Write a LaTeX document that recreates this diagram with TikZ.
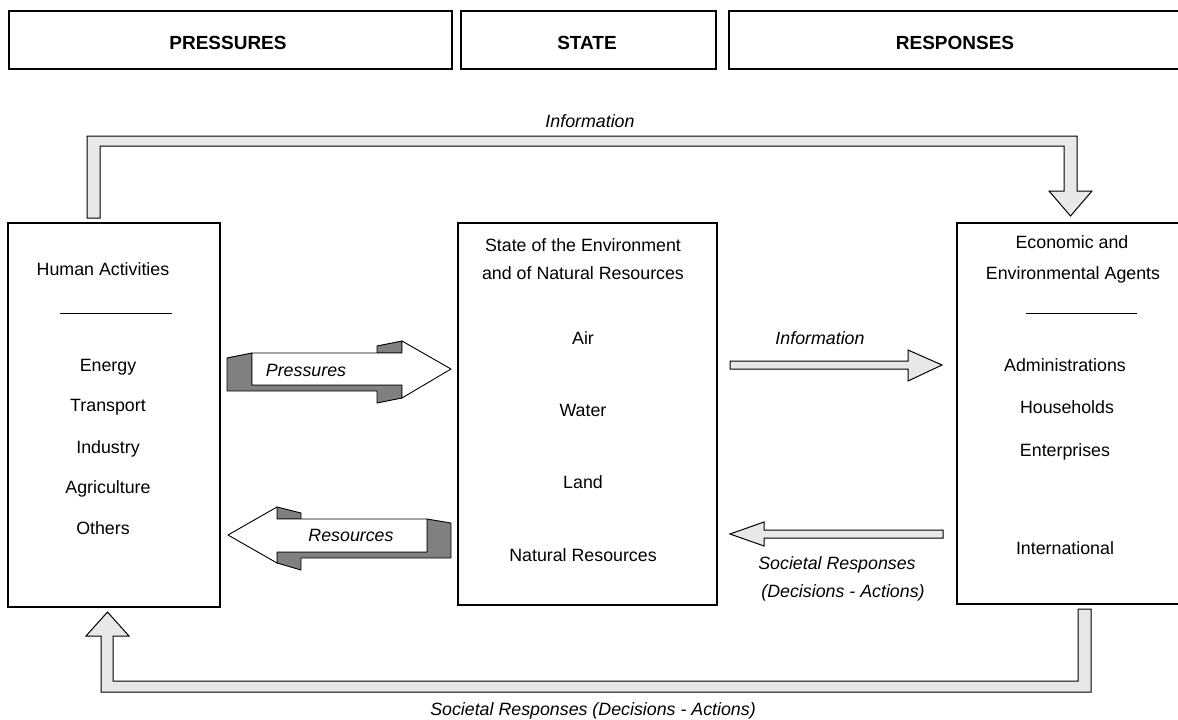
\documentclass[tikz,border=0pt]{standalone}
\usepackage{fontspec}
\setmainfont{Liberation Sans}
\definecolor{flowgray}{HTML}{E8E8E8}
\definecolor{darkface}{HTML}{808080}
\begin{document}
\begin{tikzpicture}[x=1pt,y=-1pt,
  box/.style={draw, line width=1.1pt, inner sep=0pt},
  hdr/.style={font=\fontsize{19}{22}\selectfont\bfseries, inner sep=0pt},
  txt/.style={font=\fontsize{17.8}{21}\selectfont, inner sep=0pt, anchor=base},
  itxt/.style={font=\fontsize{17.8}{21}\selectfont\itshape, inner sep=0pt, anchor=base},
  flow/.style={draw, fill=flowgray, line width=1pt, line join=miter},
  dark/.style={draw, fill=darkface, line width=0.9pt, line join=round},
  front/.style={draw, fill=white, line width=0.9pt, line join=round},
  rule/.style={draw, line width=1pt}]
\clip (0,0) rectangle (1178,720);
\fill[white] (0,0) rectangle (1178,720);

% header boxes
\node[box, minimum width=443pt, minimum height=58pt] (hp) at (230.5,40) {};
\node[box, minimum width=255pt, minimum height=58pt] (hs) at (588.5,40) {};
\node[box, minimum width=461pt, minimum height=58pt] (hr) at (959.5,40) {};
\node[hdr, anchor=base] (hpt) at (228,49) {PRESSURES};
\node[hdr, anchor=base] (hst) at (587,49) {STATE};
\node[hdr, anchor=base] (hrt) at (955,49) {RESPONSES};

% main boxes
\node[box, minimum width=212pt, minimum height=384pt] (hum) at (114,415) {};
\node[box, minimum width=259pt, minimum height=382pt] (st) at (587.5,414) {};
\node[box, minimum width=233pt, minimum height=381pt] (ag) at (1073.5,413.5) {};

% left box texts
\node[txt] (h1) at (103,275) {Human Activities};
\draw[rule] (60,313) -- (172,313);
\node[txt] (h2) at (108,371) {Energy};
\node[txt] (h3) at (108,411) {Transport};
\node[txt] (h4) at (108,453) {Industry};
\node[txt] (h5) at (108,493) {Agriculture};
\node[txt] (h6) at (103,534) {Others};

% middle box texts
\node[txt] (s1) at (583,251) {State of the Environment};
\node[txt] (s2) at (583,279) {and of Natural Resources};
\node[txt] (s3) at (583,344) {Air};
\node[txt] (s4) at (583,416) {Water};
\node[txt] (s5) at (583,488) {Land};
\node[txt] (s6) at (583,561) {Natural Resources};

% right box texts
\node[txt] (a1) at (1072,248) {Economic and};
\node[txt] (a2) at (1073,279) {Environmental Agents};
\draw[rule] (1026,313) -- (1137,313);
\node[txt] (a3) at (1065,371) {Administrations};
\node[txt] (a4) at (1067,413) {Households};
\node[txt] (a5) at (1065,456) {Enterprises};
\node[txt] (a6) at (1065,554) {International};

% top feedback arrow (Information)
\draw[flow] (87,218) -- (87,136) -- (1077,136) -- (1077,191) -- (1092,191)
  -- (1070.5,216) -- (1049,191) -- (1064,191) -- (1064,146) -- (100,146) -- (100,218) -- cycle;
\node[itxt] (ti) at (590,127) {Information};

% bottom feedback arrow (Societal Responses)
\draw[flow] (1091,609) -- (1091,692) -- (101,692) -- (101,636) -- (86,636)
  -- (107.5,612) -- (129,636) -- (113,636) -- (113,681) -- (1078,681) -- (1078,609) -- cycle;
\node[itxt] (tb) at (593,715) {Societal Responses (Decisions - Actions)};

% middle Information arrow
\draw[flow] (730,361) -- (908,361) -- (908,350) -- (942,365) -- (908,381) -- (908,369) -- (730,369) -- cycle;
\node[itxt] (mi) at (820,344) {Information};

% middle Societal Responses arrow
\draw[flow] (943,530) -- (764,530) -- (764,522) -- (730,534) -- (764,546) -- (764,538) -- (943,538) -- cycle;
\node[itxt] (ms1) at (837,569) {Societal Responses};
\node[itxt] (ms2) at (843,597) {(Decisions - Actions)};

% Pressures 3D arrow
\draw[dark] (227,358) -- (252,353) -- (252,385) -- (402,385) -- (402,398) -- (377,403) -- (377,391) -- (227,391) -- cycle;
\draw[dark] (377,346) -- (402,341) -- (402,353) -- (377,353) -- cycle;
\draw[front] (252,353) -- (402,353) -- (402,341) -- (451,369) -- (402,398) -- (402,385) -- (252,385) -- cycle;
\node[itxt] (pp) at (306,376) {Pressures};

% Resources 3D arrow
\draw[dark] (277,552) -- (427,552) -- (427,519) -- (451,523) -- (451,558) -- (301,558) -- (301,570) -- (277,563) -- cycle;
\draw[dark] (277,507) -- (301,513) -- (301,519) -- (277,519) -- cycle;
\draw[front] (228,535) -- (277,507) -- (277,519) -- (427,519) -- (427,552) -- (277,552) -- (277,563) -- cycle;
\node[itxt] (rr) at (351,541) {Resources};
\end{tikzpicture}
\end{document}
